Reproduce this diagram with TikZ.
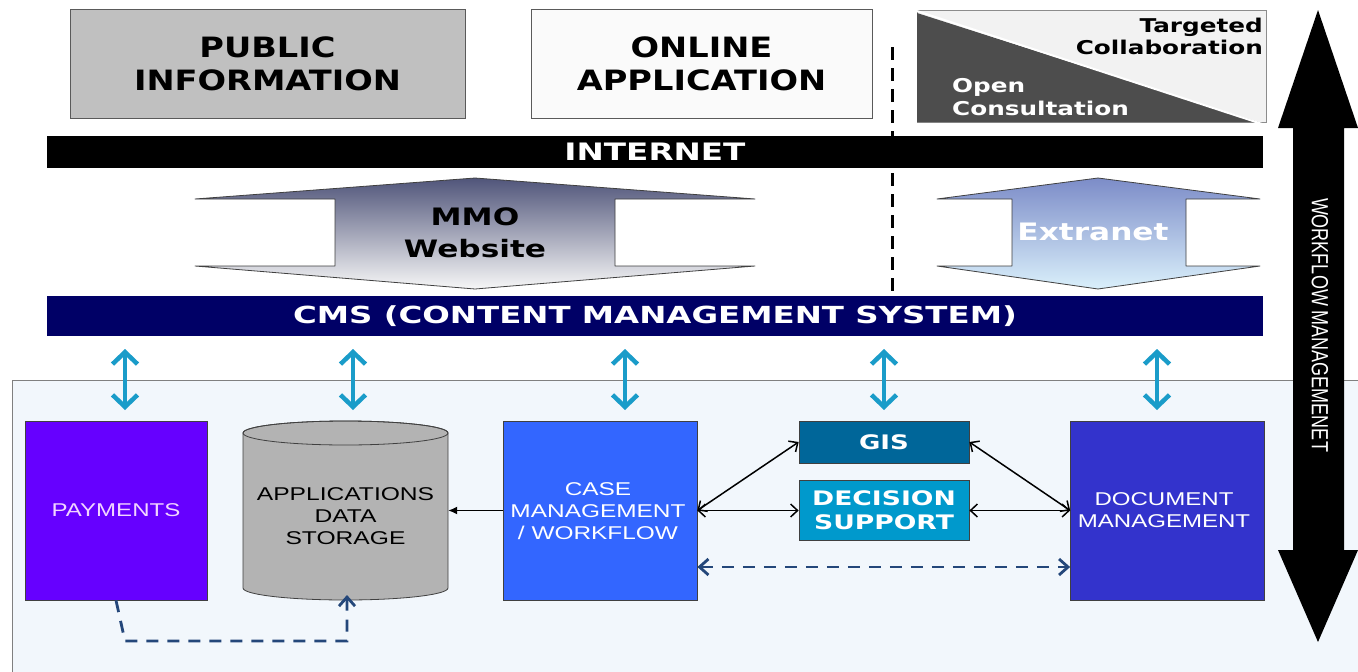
\documentclass[tikz,border=0pt]{standalone}
\usepackage{fontspec}
\usepackage{graphicx}
\usetikzlibrary{arrows.meta,calc}
\newfontfamily\vbf{DejaVu Sans}
\newfontfamily\arf{Liberation Sans}
\newcommand{\sx}[2]{\scalebox{#1}[1]{#2}}
\newcommand{\mlc}[1]{\begin{tabular}{@{}c@{}}#1\end{tabular}}
\newcommand{\mll}[1]{\begin{tabular}{@{}l@{}}#1\end{tabular}}
\newcommand{\mlr}[1]{\begin{tabular}{@{}r@{}}#1\end{tabular}}
\definecolor{pubgray}{HTML}{C0C0C0}
\definecolor{onl}{HTML}{FAFAFA}
\definecolor{edgegray}{HTML}{5A5A5A}
\definecolor{tridark}{HTML}{4D4D4D}
\definecolor{trilight}{HTML}{F2F2F2}
\definecolor{navy}{HTML}{000066}
\definecolor{panel}{HTML}{F2F7FC}
\definecolor{cyanA}{HTML}{1A9CC9}
\definecolor{payc}{HTML}{6600FF}
\definecolor{paytext}{HTML}{F2D6FF}
\definecolor{cylgray}{HTML}{B3B3B3}
\definecolor{casec}{HTML}{3366FF}
\definecolor{gisc}{HTML}{006699}
\definecolor{decc}{HTML}{0099CC}
\definecolor{docc}{HTML}{3333CC}
\definecolor{dashblue}{HTML}{24477A}
\definecolor{mmotop}{HTML}{50557A}
\definecolor{mmobot}{HTML}{F7F7F7}
\definecolor{extop}{HTML}{7C8CC8}
\definecolor{exbot}{HTML}{DAF0FB}
\tikzset{dtip/.tip={Straight Barb[length=9pt,width=16pt]}}
\begin{document}
\begin{tikzpicture}[x=1pt,y=-1pt,
  boxn/.style={draw=edgegray, line width=0.8pt, inner sep=0pt, align=center},
  bar/.style={inner sep=0pt, minimum width=1216pt, text=white},
  sysbox/.style={draw=black!75, line width=0.7pt, inner sep=0pt, align=center},
  tlabel/.style={inner sep=0pt, align=center},
  vtext/.style={font=\vbf\bfseries\fontsize{28}{33}\selectfont},
  atext/.style={font=\arf\fontsize{18.5}{22}\selectfont},
  cyanarr/.style={draw=cyanA, line width=4.5pt, {Straight Barb[length=12pt,width=25pt]}-{Straight Barb[length=12pt,width=25pt]}},
  link/.style={draw=black, line width=1.5pt, {Straight Barb[length=7pt,width=13pt]}-{Straight Barb[length=7pt,width=13pt]}},
  dlink/.style={draw=dashblue, line width=2.8pt, dash pattern=on 12pt off 9pt}
]
\useasboundingbox (0,0) rectangle (1358,672);
\fill[white] (0,0) rectangle (1358,672);

% bottom panel
\fill[panel] (12,380) rectangle (1358,672);
\draw[black!50, line width=1pt] (1358,380) -- (12,380) -- (12,672);

% dashed divider
\coordinate (dv1) at (892,47);
\coordinate (dv2) at (892,296);
\draw[black, line width=3pt, dash pattern=on 13pt off 8pt] (dv1) -- (dv2);

% top boxes
\node[boxn, fill=pubgray, minimum width=395pt, minimum height=109pt] (pub) at (267.5,63.5) {};
\node[tlabel, vtext] (pubt) at (267.5,67) {\sx{1.2}{\mlc{PUBLIC\\INFORMATION}}};
\node[boxn, fill=onl, minimum width=341pt, minimum height=109pt] (onl) at (701.5,63.5) {};
\node[tlabel, vtext] (onlt) at (701.5,67) {\sx{1.2}{\mlc{ONLINE\\APPLICATION}}};

% consultation box
\fill[trilight] (917,10) rectangle (1266,122);
\draw[black!45, line width=0.8pt] (917,10) rectangle (1266,122);
\fill[tridark] (917,13) -- (917,122) -- (1258,122) -- cycle;
\draw[white, line width=2pt] (917,11) -- (1262,124);
\node[inner sep=0pt, anchor=east, font=\vbf\bfseries\fontsize{19}{22}\selectfont] (tc) at (1263,39)
  {\sx{1.3}{\mlr{Targeted\\Collaboration}}};
\node[inner sep=0pt, anchor=west, text=white, font=\vbf\bfseries\fontsize{19}{23}\selectfont] (oc) at (952,99)
  {\sx{1.3}{\mll{Open\\Consultation}}};

% bars
\node[bar, fill=black, minimum height=32pt, font=\vbf\bfseries\fontsize{24}{26}\selectfont] (inet) at (655,152)
  {\sx{1.36}{INTERNET}};
\node[bar, fill=navy, minimum height=40pt, font=\vbf\bfseries\fontsize{23.5}{26}\selectfont] (cms) at (655,316)
  {\sx{1.38}{CMS (CONTENT MANAGEMENT SYSTEM)}};

% MMO website double arrow
\shade[top color=mmotop, bottom color=mmobot]
  (475,178) -- (755,199) -- (615,199) -- (615,266) -- (755,266) -- (475,289)
  -- (195,266) -- (335,266) -- (335,199) -- (195,199) -- cycle;
\draw[black!75, line width=0.8pt, line join=round]
  (475,178) -- (755,199) -- (615,199) -- (615,266) -- (755,266) -- (475,289)
  -- (195,266) -- (335,266) -- (335,199) -- (195,199) -- cycle;
\node[tlabel, font=\vbf\bfseries\fontsize{24}{32}\selectfont] (mmo) at (475,235)
  {\sx{1.3}{\mlc{MMO\\Website}}};

% Extranet double arrow
\shade[top color=extop, bottom color=exbot]
  (1098,178) -- (1260,199) -- (1186,199) -- (1186,266) -- (1260,266) -- (1098,289)
  -- (937,266) -- (1012,266) -- (1012,199) -- (937,199) -- cycle;
\draw[black!75, line width=0.8pt, line join=round]
  (1098,178) -- (1260,199) -- (1186,199) -- (1186,266) -- (1260,266) -- (1098,289)
  -- (937,266) -- (1012,266) -- (1012,199) -- (937,199) -- cycle;
\node[inner sep=0pt, text=white, font=\vbf\bfseries\fontsize{24}{28}\selectfont] (ext) at (1093,232)
  {\sx{1.3}{Extranet}};

% workflow management arrow
\fill[black] (1318,10) -- (1358,128) -- (1344,128) -- (1344,550) -- (1358,550) -- (1318,642)
  -- (1278,550) -- (1293,550) -- (1293,128) -- (1278,128) -- cycle;
\node[rotate=-90, inner sep=0pt, text=white, font=\arf\fontsize{18}{20}\selectfont] (wf) at (1320,325)
  {\scalebox{1}[1.3]{WORKFLOW MANAGEMENET}};

% system boxes
\node[sysbox, fill=payc, minimum width=182pt, minimum height=179pt, text=paytext, atext] (pay) at (116,510.5)
  {\sx{1.3}{PAYMENTS}};
\node[inner sep=0pt, minimum width=205pt, minimum height=179pt] (store) at (345.5,510.5) {};
\filldraw[fill=cylgray, draw=black!75, line width=0.8pt]
  (243,433) -- (243,588) arc[start angle=180, end angle=360, x radius=102.5pt, y radius=12pt]
  -- (448,433) arc[start angle=0, end angle=180, x radius=102.5pt, y radius=12pt] -- cycle;
\draw[black!75, line width=0.8pt] (345.5,433) ellipse[x radius=102.5pt, y radius=12pt];
\node[tlabel, atext] (storet) at (345.5,518.5)
  {\sx{1.33}{\mlc{APPLICATIONS\\DATA\\STORAGE}}};
\node[sysbox, fill=casec, minimum width=194pt, minimum height=179pt] (case) at (600,510.5) {};
\node[tlabel, text=white, atext] (caset) at (598,513.5)
  {\sx{1.32}{\mlc{CASE\\MANAGEMENT\\/ WORKFLOW}}};
\node[sysbox, fill=gisc, minimum width=170pt, minimum height=42pt, text=white,
  font=\vbf\bfseries\fontsize{20}{24}\selectfont] (gis) at (884,442) {\sx{1.3}{GIS}};
\node[sysbox, fill=decc, minimum width=170pt, minimum height=60pt] (dec) at (884,510.5) {};
\node[tlabel, text=white, font=\vbf\bfseries\fontsize{20}{24}\selectfont] (dect) at (884,512.5)
  {\sx{1.33}{\mlc{DECISION\\SUPPORT}}};
\node[sysbox, fill=docc, minimum width=194pt, minimum height=179pt] (doc) at (1167.5,510.5) {};
\node[tlabel, text=white, atext] (doct) at (1164,512.5)
  {\sx{1.3}{\mlc{DOCUMENT\\MANAGEMENT}}};

% CMS links
\foreach \i/\xx in {1/125,2/353,3/625,4/884,5/1157}{
  \coordinate (ct\i) at (\xx,349);
  \coordinate (cb\i) at (\xx,410);
  \draw[cyanarr] (ct\i) -- (cb\i);
}

% internal links
\draw[black, line width=1.3pt, -{Latex[length=9pt,width=8pt]}] (case) -- (store);
\draw[link] (case.east) -- (gis.west);
\draw[link] (case.east) -- (dec.west);
\draw[link] (gis.east) -- (doc.west);
\draw[link] (dec.east) -- (doc.west);

\coordinate (dy) at (0,567);
\draw[dlink, dtip-dtip] (case.east |- dy) -- (doc.west |- dy);

\coordinate (pd1) at (125,641);
\coordinate (pd2) at (347,641);
\coordinate (pd3) at (347,595);
\draw[dlink, -dtip] (pay.south) -- (pd1) -- (pd2) -- (pd3);
\end{tikzpicture}
\end{document}
